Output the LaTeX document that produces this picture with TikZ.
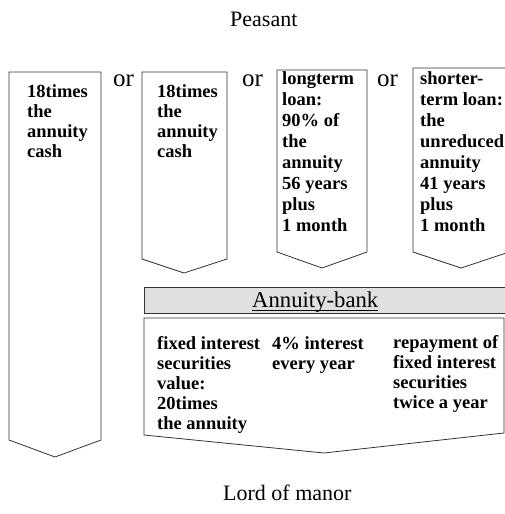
\documentclass[tikz,border=0pt]{standalone}
\usepackage{fontspec}
\setmainfont{Liberation Serif}
\begin{document}
\begin{tikzpicture}[x=1pt,y=-1pt,
  shp/.style={draw=black!80,line width=0.8pt,line join=miter},
  boldtxt/.style={font=\fontsize{18.5}{#1}\selectfont\bfseries,align=left,inner sep=0pt,anchor=north west},
  ortxt/.style={font=\fontsize{25}{25}\selectfont,inner sep=0pt,anchor=base west},
  bigtxt/.style={font=\fontsize{22}{22}\selectfont,inner sep=0pt,anchor=base west}]
\useasboundingbox (0,0) rectangle (505,514);
\clip (0,0) rectangle (505,514);
% arrow-shaped boxes
\draw[shp] (9,72) -- (101,72) -- (101,440) -- (55,457) -- (9,440) -- cycle;
\draw[shp] (142,72) -- (227,72) -- (227,259) -- (184,273) -- (142,259) -- cycle;
\draw[shp] (277,70) -- (367,70) -- (367,252) -- (322,268) -- (277,252) -- cycle;
\draw[shp] (413,68) -- (509,68) -- (509,252) -- (461,268) -- (413,252) -- cycle;
% bank bar
\draw[shp,fill=black!12] (144,287) rectangle (512,313);
% bottom box
\draw[shp] (144,318) -- (504,318) -- (504,433) -- (324,453) -- (144,435) -- cycle;
% texts
\node[bigtxt] (peasant) at (230,27) {Peasant};
\node[bigtxt] (lord) at (223,500) {Lord of manor};
\node[ortxt] (or1) at (113,86) {or};
\node[ortxt] (or2) at (242,86) {or};
\node[ortxt] (or3) at (377,86) {or};
\node[boldtxt=20] (t1) at (27,84.5) {18times\\the\\annuity\\cash};
\node[boldtxt=20] (t2) at (157,84.5) {18times\\the\\annuity\\cash};
\node[boldtxt=21.1] (t3) at (282,71) {longterm\\loan:\\90\% of\\the\\annuity\\56 years\\plus\\1 month};
\node[boldtxt=21.1] (t4) at (420,71) {shorter-\\term loan:\\the\\unreduced\\annuity\\41 years\\plus\\1 month};
\node[bigtxt,font=\fontsize{22.7}{22.7}\selectfont] (bank) at (252,307) {Annuity-bank};
\draw[line width=0.9pt] ([yshift=-3.5pt]bank.base west) -- ([yshift=-3.5pt]bank.base east);
\node[boldtxt=20] (b1) at (157,336) {fixed interest\\securities\\value:\\20times\\the annuity};
\node[boldtxt=20] (b2) at (272,336) {4\% interest\\every year};
\node[boldtxt=20] (b3) at (393,335) {repayment of\\fixed interest\\securities\\twice a year};
\end{tikzpicture}
\end{document}
